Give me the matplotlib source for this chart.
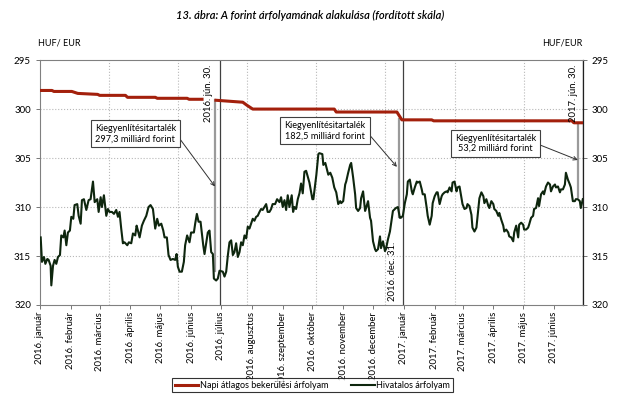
import numpy as np
import pandas as pd
import matplotlib
matplotlib.use('Agg')
import matplotlib.pyplot as plt
import matplotlib.dates as mdates

plt.rcParams['font.family'] = ['Lato', 'DejaVu Sans']

start = pd.Timestamp('2016-01-01')
end = pd.Timestamp('2017-06-30')

# Hivatalos árfolyam (days after 2016-01-01, HUF/EUR)
hiv_day = [0.7, 2.0, 4.0, 5.4, 7.4, 8.7, 10.7, 11.4, 13.1, 14.7, 16.4, 18.1, 20.1, 21.4, 23.5, 24.8, 26.5, 28.1, 30.1, 31.5,
           33.5, 34.8, 37.5, 38.9, 40.9, 42.2, 44.2, 46.6, 48.9, 50.9, 53.3, 55.0, 57.6, 59.0, 61.0, 62.3, 64.3, 66.7, 68.3, 70.0,
           72.4, 74.4, 76.7, 78.4, 80.0, 81.7, 83.4, 85.0, 87.8, 89.4, 91.8, 93.5, 95.8, 97.2, 98.5, 100.2, 102.5, 104.5, 106.9, 109.2,
           111.2, 113.6, 115.9, 117.9, 119.6, 122.0, 124.0, 125.3, 127.6, 129.3, 131.3, 133.7, 136.0, 137.4, 138.7, 140.4, 142.7, 144.7, 146.0, 148.0,
           150.4, 152.0, 154.8, 156.1, 157.8, 159.5, 161.5, 162.8, 164.2, 165.5, 167.2, 168.8, 170.5, 172.2, 173.9, 174.9, 177.2, 178.9, 180.6, 183.9,
           185.6, 187.3, 189.0, 190.6, 192.3, 194.0, 195.6, 197.3, 199.0, 200.7, 202.3, 204.0, 205.7, 207.4, 209.0, 210.7, 212.4, 214.0, 215.7, 217.4,
           219.0, 220.8, 222.4, 224.0, 225.8, 227.5, 229.0, 230.8, 232.5, 234.0, 236.5, 238.5, 240.9, 242.5, 244.2, 245.9, 247.6, 249.2, 250.9, 253.2,
           254.6, 255.9, 257.6, 259.3, 261.0, 262.6, 264.3, 266.0, 267.7, 269.3,
           271, 274, 275, 278, 280, 281, 284, 285, 287, 290, 292, 294, 296, 298, 300, 302, 303, 305, 307, 308,
           310, 312, 313, 315, 317, 318, 320, 322, 323, 325, 327, 328, 330, 332, 333, 335, 337, 338, 340, 342,
           343, 345, 347, 348, 350, 352, 353, 355, 357, 358, 360, 362, 363, 365, 367, 369, 370, 372, 374, 375,
           377, 379, 380, 382, 384, 385, 387, 389, 390, 392, 394, 395, 397, 399, 400, 402, 404, 405, 407, 409,
           410, 412, 414, 415, 417, 419, 420, 422, 424, 425, 427, 429, 430, 432, 434, 435, 437, 439, 441, 442,
           444, 446, 447, 449, 451, 452, 454, 456, 457, 459, 461, 462, 464, 466, 467, 469, 471, 472, 474, 476,
           477, 479, 481, 482, 484, 486, 487, 489, 491, 492, 494, 496, 497, 499, 501, 502, 504, 506, 507, 509,
           511, 513, 514, 516, 518, 519, 521, 523, 524, 526, 528, 529, 531, 533, 534, 536, 538, 539, 541, 543,
           544, 546]
hiv_val = [313.1, 315.6, 315.1, 315.8, 315.3, 315.4, 316.0, 318.0, 316.0, 315.4, 315.8, 315.1, 314.9, 312.9, 313.1, 312.4, 313.9, 312.6, 312.4, 311.0,
           311.2, 309.8, 309.7, 310.9, 311.7, 309.3, 309.2, 310.3, 309.3, 309.2, 307.4, 309.5, 309.2, 310.5, 309.0, 310.0, 308.8, 310.9, 310.2, 310.5,
           310.5, 310.7, 310.3, 311.0, 310.5, 312.2, 313.7, 313.6, 313.9, 313.6, 313.7, 312.7, 312.9, 311.9, 312.4, 313.1, 311.9, 311.4, 310.9, 310.0,
           309.8, 310.2, 312.2, 311.2, 311.9, 311.7, 312.4, 313.1, 313.1, 314.9, 315.4, 315.3, 315.4, 314.8, 316.1, 316.6, 316.6, 315.6, 313.9, 312.9,
           313.6, 312.6, 312.6, 311.7, 310.7, 311.5, 311.5, 312.7, 313.9, 314.8, 313.7, 312.6, 312.4, 314.6, 314.8, 317.3, 317.5, 317.3, 316.5, 316.6,
           317.1, 316.6, 314.9, 313.6, 313.4, 314.9, 314.6, 313.7, 315.1, 314.6, 313.6, 313.9, 312.9, 313.2, 312.0, 312.2, 311.7, 311.2, 311.4, 311.0,
           310.9, 310.5, 310.2, 310.3, 310.0, 309.7, 310.5, 310.5, 310.2, 309.7, 309.7, 309.2, 309.5, 309.0, 310.0, 309.3, 310.3, 308.8, 310.0, 308.8,
           310.5, 310.0, 310.2, 309.2, 308.6, 307.6, 308.6, 306.4, 306.3, 306.9,
           307.5, 309.2, 309.2, 306.7, 304.6, 304.5, 304.6, 305.7, 305.5, 306.7, 306.5, 307.0, 308.0, 308.5, 309.7, 309.4, 309.6, 309.4, 307.7, 307.4,
           306.5, 305.7, 305.5, 307.0, 308.7, 310.1, 310.4, 310.1, 309.1, 308.4, 310.4, 310.1, 309.4, 311.1, 311.4, 313.5, 314.3, 314.5, 314.3, 313.0,
           314.2, 313.5, 314.5, 314.3, 313.3, 312.5, 311.8, 310.4, 310.2, 310.1, 310.0, 311.1, 311.1, 310.9, 309.6, 308.7, 307.4, 307.2, 308.4, 308.7,
           308.0, 307.4, 307.5, 307.4, 308.2, 308.7, 308.7, 310.1, 310.9, 311.8, 310.9, 309.6, 308.9, 308.5, 308.5, 309.7, 308.9, 308.7, 308.5, 308.4,
           308.5, 308.0, 308.4, 307.5, 307.4, 308.4, 308.0, 307.9, 309.1, 309.7, 310.2, 310.1, 309.7, 309.9, 310.8, 312.1, 312.5, 312.1, 310.1, 309.1,
           308.5, 308.9, 309.6, 309.2, 309.9, 310.1, 309.4, 309.7, 310.2, 310.4, 310.9, 310.6, 311.3, 311.9, 312.5, 312.3, 312.6, 313.0, 313.1, 313.5,
           312.6, 311.9, 313.1, 311.8, 311.6, 311.8, 312.3, 312.3, 312.1, 311.8, 311.1, 310.9, 310.2, 310.1, 309.1, 309.9, 308.7, 308.4, 308.7, 307.9,
           307.5, 307.7, 308.4, 307.9, 307.7, 308.0, 307.9, 308.5, 308.2, 308.2, 307.7, 306.5, 307.2, 307.7, 308.0, 309.4, 309.4, 309.2, 309.2, 309.4,
           310.1, 309.2]

# Napi átlagos bekerülési árfolyam (NaN = break in the line)
bek_day = [0, 12, 14, 32, 38, 58, 60, 86, 88, 116, 118, 148, 150, 163, 170,
           177, 204, 208, 214, 296, 298, 359, 364, 394, 396, 535, 537, 546]
bek_val = [298.1, 298.1, 298.2, 298.2, 298.4, 298.5, 298.6, 298.6, 298.8, 298.8, 298.9, 298.9, 299.0, 299.0, np.nan,
           299.1, 299.3, 299.6, 300.0, 300.0, 300.3, 300.3, 301.1, 301.1, 301.2, 301.2, 301.4, 301.4]

# Kiegyenlítési tartalék: vertical markers
marker_dates = ['2016-06-30', '2016-12-31', '2017-06-30']
marker_labels = ['2016. jún. 30.', '2016. dec. 31.', '2017. jún. 30.']
reserve_day = [176, 361, 541]
reserve_top = [299.1, 301.0, 301.4]
reserve_bottom = [316.5, 311.0, 309.0]
reserve_text = ['Kiegyenlítésitartalék\n297,3 milliárd forint',
                'Kiegyenlítésitartalék\n182,5 milliárd forint',
                'Kiegyenlítésitartalék\n53,2 milliárd forint']
arrow_tip = [307.9, 305.9, 305.2]

months_hu = ['január', 'február', 'március', 'április', 'május', 'június', 'július',
             'augusztus', 'szeptember', 'október', 'november', 'december']


def d(days):
    return start + pd.to_timedelta(np.asarray(days), unit='D')


fig = plt.figure(figsize=(6.2, 3.98), dpi=100)
ax = fig.add_axes([0.0645, 0.2337, 0.8755, 0.6153])

ax.set_xlim(start, end)
ax.set_ylim(320, 295)

# grid
for v in [300, 305, 310, 315]:
    ax.axhline(v, color='#b8b8b8', lw=0.8, ls=':', zorder=0)
for k in range(1, 8):
    ax.axvline(d(69.5 * k), color='#b8b8b8', lw=0.8, ls=':', zorder=0)

ax.plot(d(bek_day), bek_val, color='#A3200C', lw=2.2, zorder=3,
        label='Napi átlagos bekerülési árfolyam')
ax.plot(d(hiv_day), hiv_val, color='#0E260E', lw=1.5, zorder=3,
        label='Hivatalos árfolyam')

# reserve bars and date markers
for i in range(3):
    ax.plot([d(reserve_day[i])] * 2, [reserve_top[i], reserve_bottom[i]],
            color='#9a9a9a', lw=1.6, zorder=2)
    ax.axvline(pd.Timestamp(marker_dates[i]), color='#404040', lw=0.9, zorder=2)

ax.text(d(170), 295.5, marker_labels[0], rotation=90, ha='center', va='top', fontsize=6.8)
ax.text(d(355), 319.6, marker_labels[1], rotation=90, ha='center', va='bottom', fontsize=6.8)
ax.text(d(537), 295.5, marker_labels[2], rotation=90, ha='center', va='top', fontsize=6.8)

# annotation boxes
box = dict(boxstyle='square,pad=0.45', fc='white', ec='#404040', lw=0.8)
arrow = dict(arrowstyle='->', color='#303030', lw=0.7, shrinkA=0, shrinkB=0)
ax.annotate(reserve_text[0], xy=(d(reserve_day[0]), arrow_tip[0]), xytext=(d(55), 302.5),
            fontsize=6.6, ha='left', va='center', bbox=box,
            arrowprops=dict(arrow, relpos=(1, 0.5)), zorder=5)
ax.annotate(reserve_text[1], xy=(d(reserve_day[1] - 2), arrow_tip[1]), xytext=(d(246), 302.2),
            fontsize=6.6, ha='left', va='center', bbox=box,
            arrowprops=dict(arrow, relpos=(1, 0.5)), zorder=5)
ax.annotate(reserve_text[2], xy=(d(reserve_day[2]), arrow_tip[2]), xytext=(d(458), 303.5),
            fontsize=6.6, ha='center', va='center', multialignment='center', bbox=box,
            arrowprops=dict(arrow, relpos=(1, 0.5)), zorder=5)

# axes
ax.xaxis.set_major_locator(mdates.MonthLocator())
ax.xaxis.set_major_formatter(plt.FuncFormatter(
    lambda x, pos: '%d. %s' % (mdates.num2date(x).year, months_hu[mdates.num2date(x).month - 1])))
ax.tick_params(axis='x', labelsize=6.8, rotation=90, length=3, width=0.6, color='#606060', pad=2)
ax.set_yticks([295, 300, 305, 310, 315, 320])
ax.tick_params(axis='y', labelsize=7, length=3, width=0.6, color='#606060',
               right=True, labelright=True)
for s in ['left', 'bottom', 'top']:
    ax.spines[s].set_color('#808080')
    ax.spines[s].set_linewidth(0.8)
ax.spines['right'].set_color('#202020')
ax.spines['right'].set_linewidth(0.9)

fig.text(0.5, 0.962, '13. ábra: A forint árfolyamának alakulása (fordított skála)',
         ha='center', va='center', fontsize=8, style='italic', fontweight='semibold')
fig.text(0.062, 0.892, 'HUF/ EUR', ha='left', va='center', fontsize=6.5)
fig.text(0.94, 0.892, 'HUF/EUR', ha='right', va='center', fontsize=6.5)

leg = fig.legend(loc='center', bbox_to_anchor=(0.504, 0.032), ncol=2, fontsize=6.5,
                 frameon=True, fancybox=False, edgecolor='black', handlelength=2.6,
                 handletextpad=0.2, columnspacing=2.5, borderpad=0.3)
leg.get_frame().set_linewidth(0.8)

fig.savefig('out.png', dpi=100)
